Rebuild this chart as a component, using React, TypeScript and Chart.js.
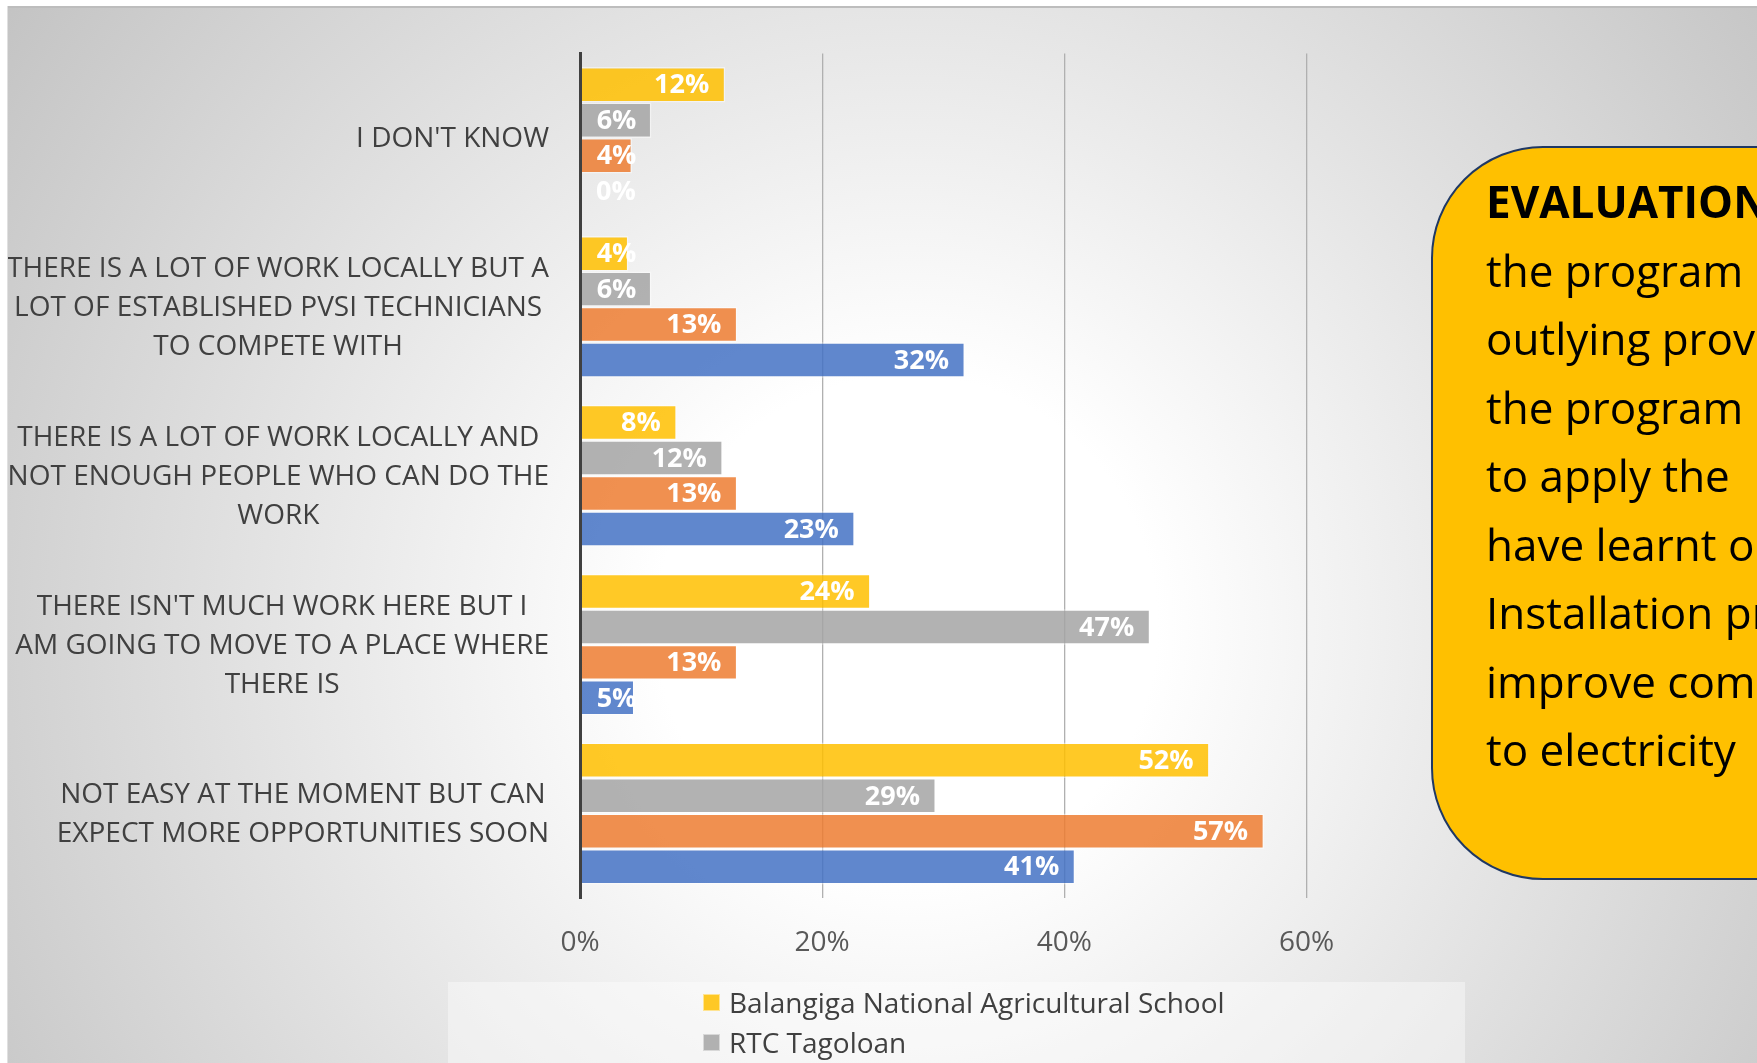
import React, { useEffect, useRef } from "react";
import { Chart, registerables } from "chart.js";

Chart.register(...registerables);

// ---------- data ----------
const categories: string[][] = [
  ["I DON'T KNOW"],
  ["THERE IS A LOT OF WORK LOCALLY BUT A", "LOT OF ESTABLISHED PVSI TECHNICIANS", "TO COMPETE WITH"],
  ["THERE IS A LOT OF WORK LOCALLY AND", "NOT ENOUGH PEOPLE WHO CAN DO THE", "WORK"],
  ["THERE ISN'T MUCH WORK HERE BUT I", "AM GOING TO MOVE TO A PLACE WHERE", "THERE IS"],
  ["NOT EASY AT THE MOMENT BUT CAN", "EXPECT MORE OPPORTUNITIES SOON"],
];

const seriesNames = ["Balangiga National Agricultural School", "RTC Tagoloan", "Series 3", "Series 4"];
const balangiga = [12, 4, 8, 24, 52];
const rtcTagoloan = [5.9, 5.9, 11.8, 47.1, 29.4];
const series3 = [4.3, 13.0, 13.0, 13.0, 56.5];
const series4 = [0, 31.8, 22.7, 4.5, 40.9];
const seriesColors = [
  "rgba(255,192,0,0.85)",
  "rgba(165,165,165,0.85)",
  "rgba(237,125,49,0.85)",
  "rgba(68,114,196,0.85)",
];
const xTicks = [0, 20, 40, 60];

const calloutLines = [
  "the program",
  "outlying provinces",
  "the program",
  "to apply the",
  "have learnt on",
  "Installation program",
  "improve community",
  "to electricity",
];

const FONT = "'Open Sans', sans-serif";

// value labels inside bar ends
const barLabelPlugin = {
  id: "barLabels",
  afterDatasetsDraw(chart: any) {
    const ctx = chart.ctx;
    ctx.save();
    ctx.font = `bold 27px ${FONT}`;
    ctx.fillStyle = "#ffffff";
    ctx.textBaseline = "middle";
    ctx.textAlign = "left";
    chart.data.datasets.forEach((ds: any, i: number) => {
      const meta = chart.getDatasetMeta(i);
      meta.data.forEach((bar: any, j: number) => {
        const txt = Math.round(ds.data[j]) + "%";
        const w = ctx.measureText(txt).width;
        let left = bar.x - 16 - w;
        const minLeft = bar.base + 16;
        if (left < minLeft) left = minLeft;
        ctx.fillText(txt, left, bar.y + 1);
      });
    });
    ctx.restore();
  },
};

// category labels: each block right-aligned, lines centred inside the block
const categoryLabelPlugin = {
  id: "categoryLabels",
  afterDraw(chart: any) {
    const ctx = chart.ctx;
    const yScale = chart.scales.y;
    const lineH = 39;
    const right = chart.chartArea.left - 31;
    ctx.save();
    ctx.font = `28px ${FONT}`;
    ctx.fillStyle = "#404040";
    ctx.textAlign = "center";
    ctx.textBaseline = "middle";
    categories.forEach((lines, i) => {
      const y = yScale.getPixelForTick(i);
      const widest = Math.max(...lines.map((l) => ctx.measureText(l).width));
      const cx = right - widest / 2;
      lines.forEach((l, k) => {
        ctx.fillText(l, cx, y + (k - (lines.length - 1) / 2) * lineH + 1);
      });
    });
    ctx.restore();
  },
};

export default function App() {
  const ref = useRef<HTMLCanvasElement>(null);

  useEffect(() => {
    Chart.defaults.font.family = FONT;
    const allSeries = [balangiga, rtcTagoloan, series3, series4];
    const chart = new Chart(ref.current!, {
      type: "bar",
      data: {
        labels: categories,
        datasets: allSeries.map((d, i) => ({
          label: seriesNames[i],
          data: d,
          backgroundColor: seriesColors[i],
          borderColor: "rgba(255,255,255,0.45)",
          borderWidth: 1.5,
          categoryPercentage: 0.84,
          barPercentage: 1,
        })),
      },
      options: {
        indexAxis: "y",
        responsive: false,
        animation: false,
        layout: { padding: { top: 47.5, right: 450.5, left: 0, bottom: 0 } },
        plugins: { legend: { display: false }, tooltip: { enabled: false } },
        scales: {
          x: {
            type: "linear",
            min: 0,
            max: 60,
            afterBuildTicks: (scale: any) => {
              scale.ticks = xTicks.map((v) => ({ value: v }));
            },
            afterFit: (scale: any) => {
              scale.height = 165;
            },
            grid: { display: true, drawTicks: false, color: "#b0b0b0", lineWidth: 1.3 },
            border: { display: false },
            ticks: {
              padding: 28,
              color: "#595959",
              font: { size: 28, family: FONT },
              callback: (v: any) => v + "%",
            },
          },
          y: {
            type: "category",
            afterFit: (scale: any) => {
              scale.width = 573;
              scale.paddingTop = 0;
              scale.paddingBottom = 0;
            },
            grid: { display: false, drawTicks: false },
            border: { display: true, color: "#404040", width: 3, z: 1 },
            ticks: { display: false },
          },
        },
      },
      plugins: [barLabelPlugin, categoryLabelPlugin],
    } as any);
    return () => chart.destroy();
  }, []);

  return (
    <div style={{ position: "absolute", left: 0, top: 0, width: 1757, height: 1063, overflow: "hidden", background: "#ffffff" }}>
      <div
        style={{
          position: "absolute",
          left: 7,
          top: 6,
          width: 1750,
          height: 1057,
          overflow: "hidden",
          background: "radial-gradient(circle 1100px at 900px 620px, #ffffff 0px, #ffffff 250px, #c3c3c3 1100px)",
        }}
      >
        <canvas ref={ref} width={1750} height={1057} style={{ position: "absolute", left: 0, top: 0 }} />

        {/* legend */}
        <div
          style={{
            position: "absolute",
            left: 441,
            top: 976,
            width: 1017,
            height: 200,
            background: "rgba(255,255,255,0.4)",
            paddingLeft: 255,
            boxSizing: "border-box",
          }}
        >
          <div style={{ display: "flex", flexDirection: "column" }}>
            {seriesNames.map((name, i) => (
              <div key={name} style={{ display: "flex", alignItems: "center", height: 40 }}>
                <div
                  style={{
                    width: 17,
                    height: 17,
                    background: seriesColors[i],
                    border: "1px solid rgba(255,255,255,0.5)",
                    boxSizing: "border-box",
                    marginRight: 9,
                  }}
                />
                <span style={{ font: `28px ${FONT}`, color: "#404040", lineHeight: "40px", whiteSpace: "nowrap" }}>{name}</span>
              </div>
            ))}
          </div>
        </div>

        {/* callout */}
        <div
          style={{
            position: "absolute",
            left: 1424,
            top: 140,
            width: 640,
            height: 734,
            boxSizing: "border-box",
            background: "#FFC000",
            border: "2.5px solid #1f3864",
            borderRadius: 112,
            paddingTop: 19,
            paddingLeft: 53,
            fontFamily: FONT,
            fontSize: 44,
            lineHeight: "68.5px",
            color: "#000000",
            whiteSpace: "nowrap",
          }}
        >
          <div style={{ fontWeight: 700 }}>EVALUATION:</div>
          {calloutLines.map((l, i) => (
            <div key={i}>{l}</div>
          ))}
        </div>

        {/* slide frame edges */}
        <div style={{ position: "absolute", left: 0, top: 0, width: 1750, height: 2, background: "#bdbdbd" }} />
        <div style={{ position: "absolute", left: 0, top: 0, width: 1, height: 1057, background: "#e0e0e0" }} />
      </div>
    </div>
  );
}
